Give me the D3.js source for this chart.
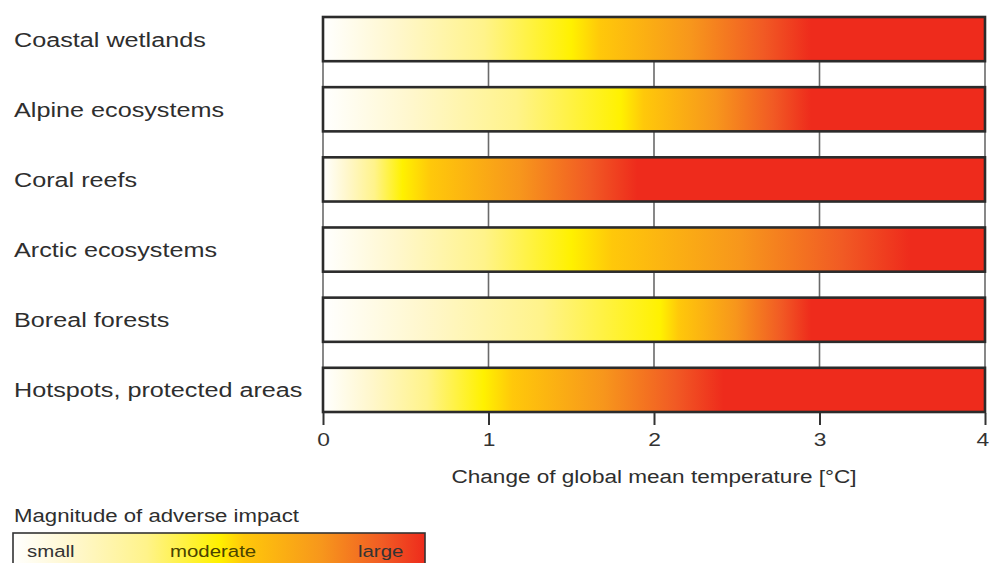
<!DOCTYPE html>
<html>
<head>
<meta charset="utf-8">
<script src="https://cdn.jsdelivr.net/npm/d3@7"></script>
<style>
  html, body { margin: 0; padding: 0; background: #fff; }
  svg { display: block; font-family: "Liberation Sans", Arial, sans-serif; }
</style>
</head>
<body>
<svg id="chart" width="989" height="563"></svg>
<script>
  // data
  const categories = ['Coastal wetlands', 'Alpine ecosystems', 'Coral reefs',
    'Arctic ecosystems', 'Boreal forests', 'Hotspots, protected areas'];
  // temperature (°C) where the bar turns fully yellow, and where it turns fully red
  const yellowAt = [1.5, 1.8, 0.48, 1.5, 2.04, 0.97];
  const redAt = [2.95, 2.95, 1.9, 3.55, 2.95, 2.42];
  const tempTicks = [0, 1, 2, 3, 4];
  const legendLabels = ['small', 'moderate', 'large'];

  // shared colour ramp: position 0 = white, 1 = yellow, 2 = red
  const rampPos = [0, 0.3, 0.65, 1, 1.12, 1.5, 1.8, 2];
  const rampColor = ['#ffffff', '#fff7cc', '#fff38a', '#fff100', '#ffc80a', '#f7961c', '#f15a24', '#ee2b1c'];

  const svg = d3.select('#chart');
  const defs = svg.append('defs');
  const SX = 1.2; // the original artwork is stretched horizontally

  const x = d3.scaleLinear().domain([0, 4]).range([323, 985]);
  const y = d3.scaleBand().domain(categories).range([17, 412]).paddingInner(0.37).paddingOuter(0);

  // gradients, one per bar
  categories.forEach((c, i) => {
    const grad = defs.append('linearGradient').attr('id', 'g' + i)
      .attr('x1', 0).attr('x2', 1).attr('y1', 0).attr('y2', 0);
    rampPos.forEach((p, k) => {
      const t = p <= 1 ? p * yellowAt[i] : yellowAt[i] + (p - 1) * (redAt[i] - yellowAt[i]);
      grad.append('stop').attr('offset', (t / 4 * 100) + '%').attr('stop-color', rampColor[k]);
    });
  });

  // grid lines in the gaps between bars
  const grid = svg.append('g');
  categories.slice(0, -1).forEach((c, i) => {
    const y0 = y(c) + y.bandwidth();
    const y1 = y(categories[i + 1]);
    grid.selectAll(null)
      .data(tempTicks)
      .join('line')
      .attr('x1', d => x(d)).attr('x2', d => x(d))
      .attr('y1', y0).attr('y2', y1)
      .attr('stroke', '#6a6a6a')
      .attr('stroke-width', 1.6);
  });

  // bars
  svg.append('g')
    .selectAll('rect')
    .data(categories)
    .join('rect')
    .attr('x', x(0))
    .attr('y', d => y(d))
    .attr('width', x(4) - x(0))
    .attr('height', y.bandwidth())
    .attr('fill', (d, i) => `url(#g${i})`)
    .attr('stroke', '#2b2b2b')
    .attr('stroke-width', 2.6);

  // category labels
  svg.append('g')
    .selectAll('text')
    .data(categories)
    .join('text')
    .attr('transform', d => `translate(14,${y(d) + y.bandwidth() / 2 + 7.5}) scale(${SX},1)`)
    .attr('font-size', 21)
    .attr('fill', '#2e2e2e')
    .text(d => d);

  // x axis
  const axis = svg.append('g')
    .attr('transform', `translate(0,${y.range()[1] + 1})`)
    .call(d3.axisBottom(x).tickValues(tempTicks).tickSize(12).tickPadding(8).tickFormat(d3.format('d')));
  axis.select('.domain').remove();
  axis.selectAll('.tick line').attr('stroke', '#333').attr('stroke-width', 2);
  axis.selectAll('.tick text')
    .attr('font-size', 19)
    .attr('font-family', '"Liberation Sans", Arial, sans-serif')
    .attr('fill', '#333')
    .attr('text-anchor', d => d === 4 ? 'end' : 'middle')
    .attr('x', d => d === 4 ? 3 : 0)
    .attr('transform', `scale(${SX},1)`);

  svg.append('text')
    .attr('transform', `translate(${x(2)},483) scale(${SX},1)`)
    .attr('text-anchor', 'middle')
    .attr('font-size', 18.8)
    .attr('fill', '#2e2e2e')
    .text('Change of global mean temperature [°C]');

  // legend
  svg.append('text')
    .attr('transform', `translate(14,522) scale(${SX},1)`)
    .attr('font-size', 18.5)
    .attr('fill', '#2e2e2e')
    .text('Magnitude of adverse impact');

  const lg = defs.append('linearGradient').attr('id', 'legendGrad')
    .attr('x1', 0).attr('x2', 1).attr('y1', 0).attr('y2', 0);
  rampPos.forEach((p, k) => {
    lg.append('stop').attr('offset', (p / 2 * 100) + '%').attr('stop-color', rampColor[k]);
  });

  const lx = d3.scalePoint().domain(legendLabels).range([27, 358]);
  svg.append('rect')
    .attr('x', 13).attr('y', 533)
    .attr('width', 412).attr('height', 34)
    .attr('fill', 'url(#legendGrad)')
    .attr('stroke', '#333')
    .attr('stroke-width', 1.6);

  svg.append('g')
    .selectAll('text')
    .data(legendLabels)
    .join('text')
    .attr('transform', (d, i) => `translate(${i === 1 ? 170 : lx(d)},557) scale(${SX},1)`)
    .attr('font-size', 17)
    .attr('fill', (d, i) => i === 1 ? '#4a4300' : '#333')
    .text(d => d);
</script>
</body>
</html>
